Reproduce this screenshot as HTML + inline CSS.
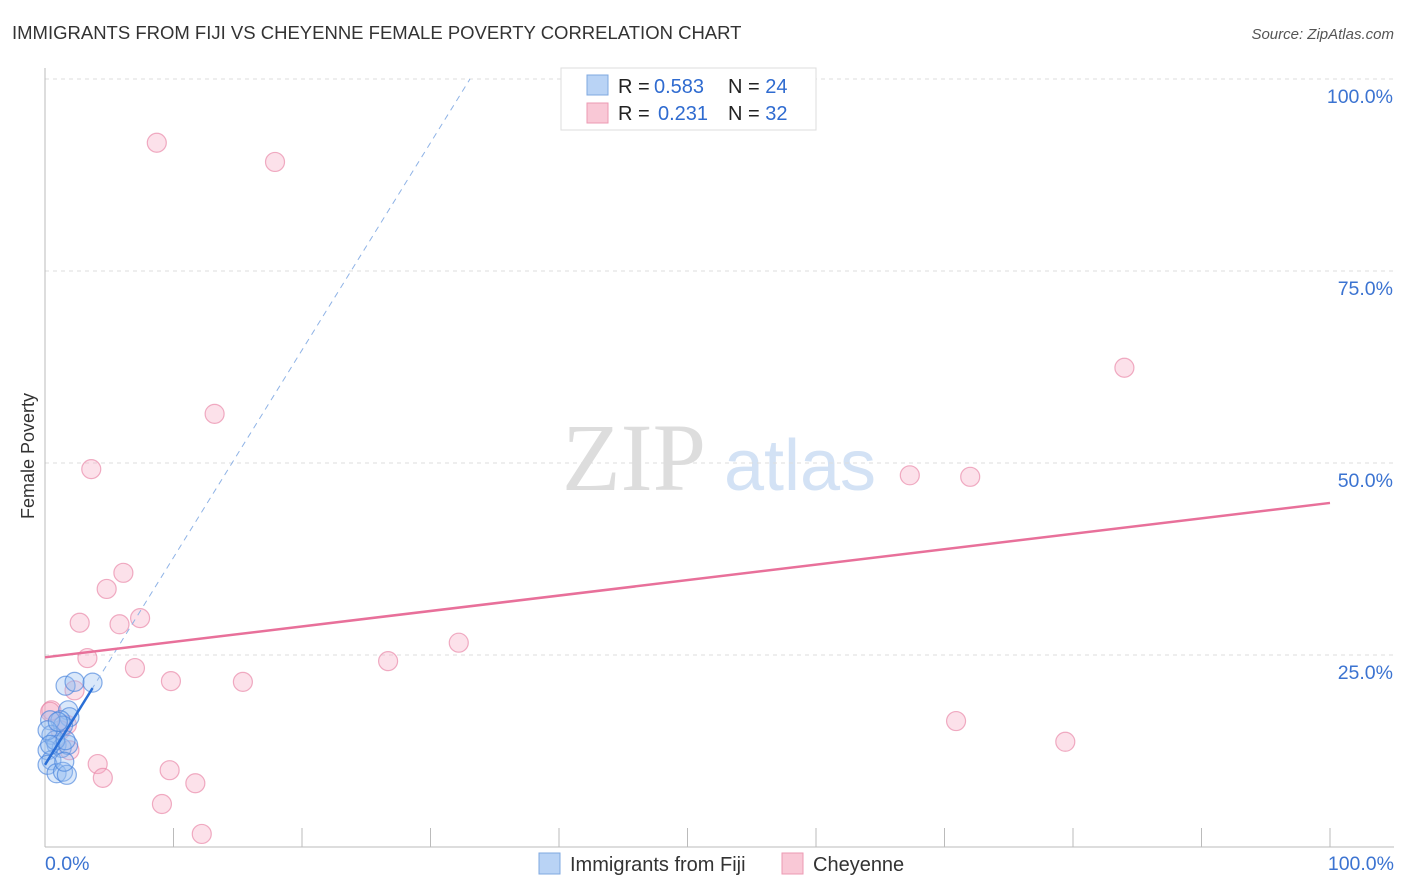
<!DOCTYPE html>
<html><head><meta charset="utf-8">
<style>
body{margin:0;background:#fff;font-family:"Liberation Sans",sans-serif;}
svg{display:block}
</style></head>
<body>
<svg id="chart" width="1406" height="892">
<text x="12" y="39" font-size="18.5" fill="#333">IMMIGRANTS FROM FIJI VS CHEYENNE FEMALE POVERTY CORRELATION CHART</text>
<text x="1394" y="39" font-size="15" fill="#555" font-style="italic" text-anchor="end">Source: ZipAtlas.com</text>
<text x="634" y="490" font-size="96" fill="#ddd" font-family="Liberation Serif,serif" text-anchor="middle">ZIP</text>
<text x="800" y="490" font-size="72" fill="#d3e2f5" text-anchor="middle">atlas</text>
<g id="grid"></g>
<g id="axes"></g>
<g id="marks"></g>
<text transform="translate(34,456) rotate(-90)" font-size="18" fill="#333" text-anchor="middle">Female Poverty</text>
<g>
<rect x="561" y="68" width="255" height="62" fill="#fff" stroke="#ddd"/>
<rect x="587" y="75" width="21" height="20" fill="#b9d3f5" stroke="#7fa8e0"/>
<rect x="587" y="103" width="21" height="20" fill="#f9c8d6" stroke="#ec9ab3"/>
<text x="618" y="93" font-size="20" fill="#222">R = <tspan x="654" fill="#2f6bd0">0.583</tspan><tspan x="728">N = </tspan><tspan fill="#2f6bd0">24</tspan></text>
<text x="618" y="120" font-size="20" fill="#222">R = <tspan x="658" fill="#2f6bd0">0.231</tspan><tspan x="728">N = </tspan><tspan fill="#2f6bd0">32</tspan></text>
</g>
<g>
<rect x="539" y="853" width="21" height="21" fill="#b9d3f5" stroke="#7fa8e0"/>
<text x="570" y="871" font-size="20" fill="#333">Immigrants from Fiji</text>
<rect x="782" y="853" width="21" height="21" fill="#f9c8d6" stroke="#ec9ab3"/>
<text x="813" y="871" font-size="20" fill="#333">Cheyenne</text>
</g>
</svg>
<script>
const yTicks=[100,75,50,25];
const yTickLabels=["100.0%","75.0%","50.0%","25.0%"];
const xTicks=[0,10,20,30,40,50,60,70,80,90,100];
const fijiX=[1.6,2.3,3.7,1.8,1.9,1.2,1.4,0.4,0.5,0.9,1.3,1.8,0.2,0.5,0.2,0.9,1.4,1.7,1.5,0.8,0.2,1.0,0.4,1.6];
const fijiY=[21.0,21.5,21.4,17.8,16.9,16.5,15.8,16.5,14.6,13.3,12.9,13.3,12.6,11.3,10.7,9.6,9.8,9.4,11.1,13.9,15.2,16.3,13.3,13.9];
const cheyX=[8.7,17.9,13.2,3.6,84.0,67.3,72.0,6.1,4.8,7.4,2.7,5.8,32.2,3.3,26.7,7.0,9.8,15.4,2.3,70.9,79.4,0.5,1.7,1.9,4.1,4.5,9.7,11.7,9.1,12.2,0.4,1.2];
const cheyY=[91.7,89.2,56.4,49.2,62.4,48.4,48.2,35.7,33.6,29.8,29.2,29.0,26.6,24.6,24.2,23.3,21.6,21.5,20.4,16.4,13.7,17.8,15.9,12.6,10.8,9.0,10.0,8.3,5.6,1.7,17.6,15.2];
const fijiTrend=[10.7,2.7]; // intercept, slope
const cheyTrend=[24.7,0.201];
const X=v=>45+v*12.85, Y=v=>847-v*7.68;
const NS="http://www.w3.org/2000/svg";
function mk(tag,attrs,parent){const e=document.createElementNS(NS,tag);for(const k in attrs)e.setAttribute(k,attrs[k]);document.getElementById(parent).appendChild(e);return e;}
yTicks.forEach((t,i)=>{
 const l=mk('line',{x1:45,x2:1394,y1:Y(t),y2:Y(t),stroke:'#ddd','stroke-dasharray':'4,4'},'grid');
 
 
 const tx=mk('text',{x:1393,y:Y(t)+24,'font-size':19.5,fill:'#3b73d1','text-anchor':'end'},'grid');
 tx.textContent=yTickLabels[i];
 
 
});
mk('line',{x1:45,x2:45,y1:68,y2:847,stroke:'#bbb'},'axes');
mk('line',{x1:45,x2:1394,y1:847,y2:847,stroke:'#bbb'},'axes');
xTicks.forEach(t=>{const l=mk('line',{x1:X(t),x2:X(t),y1:828,y2:847,stroke:'#bbb'},'axes');
 
 });
const a=mk('text',{x:45,y:870,'font-size':19.5,fill:'#3b73d1'},'axes');a.textContent='0.0%';


const b=mk('text',{x:1394,y:870,'font-size':19.5,fill:'#3b73d1','text-anchor':'end'},'axes');b.textContent='100.0%';


cheyX.forEach((x,i)=>{const c=mk('circle',{cx:X(x),cy:Y(cheyY[i]),r:9.5,fill:'rgba(246,170,195,0.35)',stroke:'rgba(232,130,165,0.65)','stroke-width':1.2},'marks');
 
 });
fijiX.forEach((x,i)=>{const c=mk('circle',{cx:X(x),cy:Y(fijiY[i]),r:9.5,fill:'rgba(150,190,240,0.35)',stroke:'rgba(70,130,220,0.65)','stroke-width':1.2},'marks');
 
 });
const fxEnd=(100-fijiTrend[0])/fijiTrend[1];
const d=mk('line',{x1:X(0),y1:Y(fijiTrend[0]),x2:X(fxEnd),y2:Y(100),stroke:'#8fb3e6','stroke-dasharray':'6,5','stroke-width':1},'marks');


const fl=mk('line',{x1:X(0),y1:Y(fijiTrend[0]),x2:X(3.7),y2:Y(fijiTrend[0]+fijiTrend[1]*3.7),stroke:'#2a6fd6','stroke-width':2.5},'marks');


const cl=mk('line',{x1:X(0),y1:Y(cheyTrend[0]),x2:X(100),y2:Y(cheyTrend[0]+cheyTrend[1]*100),stroke:'#e8709a','stroke-width':2.5},'marks');


</script>
</body></html>
